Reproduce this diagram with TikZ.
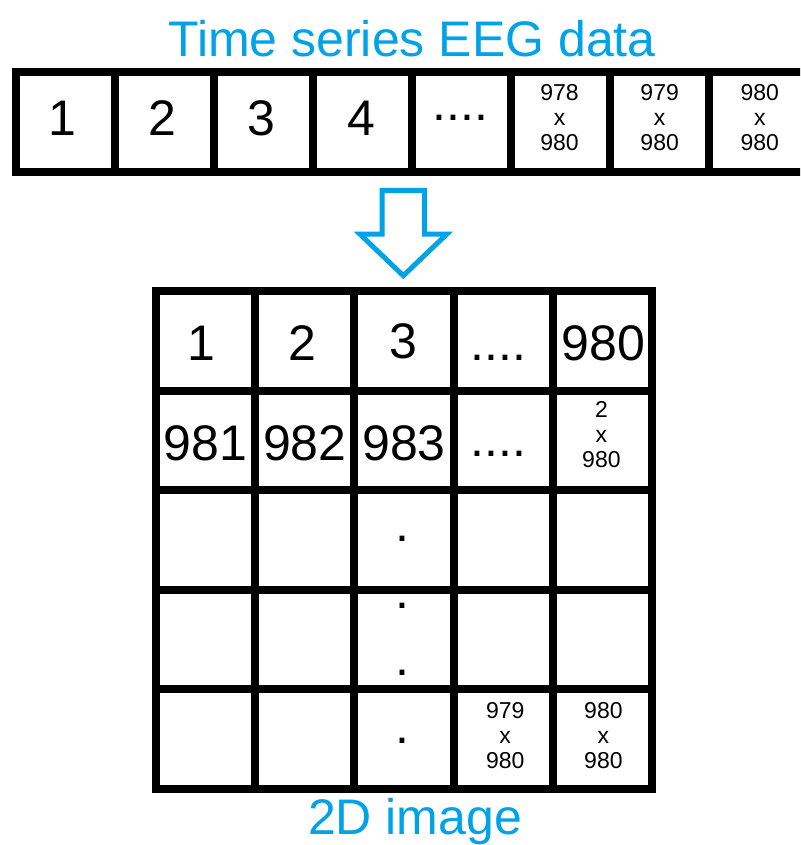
\documentclass[tikz,border=0pt]{standalone}
\usepackage{fontspec}
\setmainfont{Liberation Sans}
\definecolor{eegblue}{RGB}{0,162,232}
\begin{document}
\begin{tikzpicture}[x=1pt,y=-1pt,
  rowcell/.style={draw=black, line width=8pt, inner sep=0pt, minimum width=99.1pt, minimum height=100.5pt},
  gridcell/.style={draw=black, line width=8pt, inner sep=0pt, minimum width=99.2pt, minimum height=99.6pt},
  bigtxt/.style={font=\fontsize{50}{60}\selectfont, inner sep=0pt},
  smalltxt/.style={font=\fontsize{23}{25}\selectfont, align=center, inner sep=0pt},
  titletxt/.style={font=\fontsize{50}{60}\selectfont, text=eegblue, inner sep=0pt, anchor=base},
  blockarrow/.style={draw=eegblue, line width=5pt, line join=miter}]
\useasboundingbox (0,0) rectangle (800,845);
\clip (0,0) rectangle (800,845);

% title
\node[titletxt] (title) at (412,57) {Time series EEG data};

% top row
\foreach \k in {0,...,7}{
  \node[rowcell] (t\k) at ({15.5+99.1*(\k+0.5)},122.25) {};
}
\node[bigtxt] (n1) at ([xshift=-3pt]t0.center |- 0,118.5) {1};
\node[bigtxt] (n2) at ([xshift=-2pt]t1.center |- 0,118.5) {2};
\node[bigtxt] (n3) at ([xshift=-2pt]t2.center |- 0,118.5) {3};
\node[bigtxt] (n4) at ([xshift=-1pt]t3.center |- 0,118.5) {4};
\node[bigtxt] (ndots) at ([xshift=-1pt]t4.center |- 0,118) {....};
\node[smalltxt] (n978) at ([xshift=-1pt]t5.center |- 0,117.5) {978\\x\\980};
\node[smalltxt] (n979) at ([xshift=0pt]t6.center |- 0,117.5) {979\\x\\980};
\node[smalltxt] (n980) at ([xshift=1pt]t7.center |- 0,117.5) {980\\x\\980};

% block arrow
\coordinate (a1) at (382.2,190.3);
\coordinate (a2) at (424.5,190.3);
\draw[blockarrow] (a1) -- (a2) -- (424.5,234.2) -- (446.7,234.2) -- (403.3,275.7)
  -- (360,234.2) -- (382.2,234.2) -- cycle;

% grid
\foreach \r in {1,...,5}{
  \foreach \c in {1,...,5}{
    \node[gridcell] (g\r\c) at ({156+99.2*(\c-0.5)},{291+99.6*(\r-0.5)}) {};
  }
}
\node[bigtxt, anchor=base] (m11) at ([xshift=-4pt]g11.center |- 0,360) {1};
\node[bigtxt, anchor=base] (m12) at ([xshift=-2pt]g12.center |- 0,360) {2};
\node[bigtxt, anchor=base] (m13) at ([xshift=-1pt]g13.center |- 0,358) {3};
\node[bigtxt, anchor=base] (m14) at ([xshift=-5pt]g14.center |- 0,360) {....};
\node[bigtxt, anchor=base] (m15) at ([xshift=1pt]g15.center |- 0,360) {980};
\node[bigtxt, anchor=base] (m21) at (g21.center |- 0,460) {981};
\node[bigtxt, anchor=base] (m22) at (g22.center |- 0,460) {982};
\node[bigtxt, anchor=base] (m23) at (g23.center |- 0,460) {983};
\node[bigtxt, anchor=base] (m24) at ([xshift=-5pt]g24.center |- 0,456) {....};
\node[smalltxt] (m25) at ([xshift=-1pt]g25.center |- 0,434.5) {2\\x\\980};
\node[bigtxt] (d1) at ([xshift=-2pt]g33.center |- 0,539) {.};
\node[bigtxt] (d2) at ([xshift=-2pt]g43.center |- 0,606) {.};
\node[bigtxt] (d3) at ([xshift=-2pt]g43.center |- 0,673) {.};
\node[bigtxt] (d4) at ([xshift=-2pt]g53.center |- 0,741) {.};
\node[smalltxt] (m54) at ([xshift=2pt]g54.center |- 0,736) {979\\x\\980};
\node[smalltxt] (m55) at ([xshift=1pt]g55.center |- 0,736) {980\\x\\980};

% caption
\node[titletxt] (caption) at (415,834) {2D image};
\end{tikzpicture}
\end{document}
